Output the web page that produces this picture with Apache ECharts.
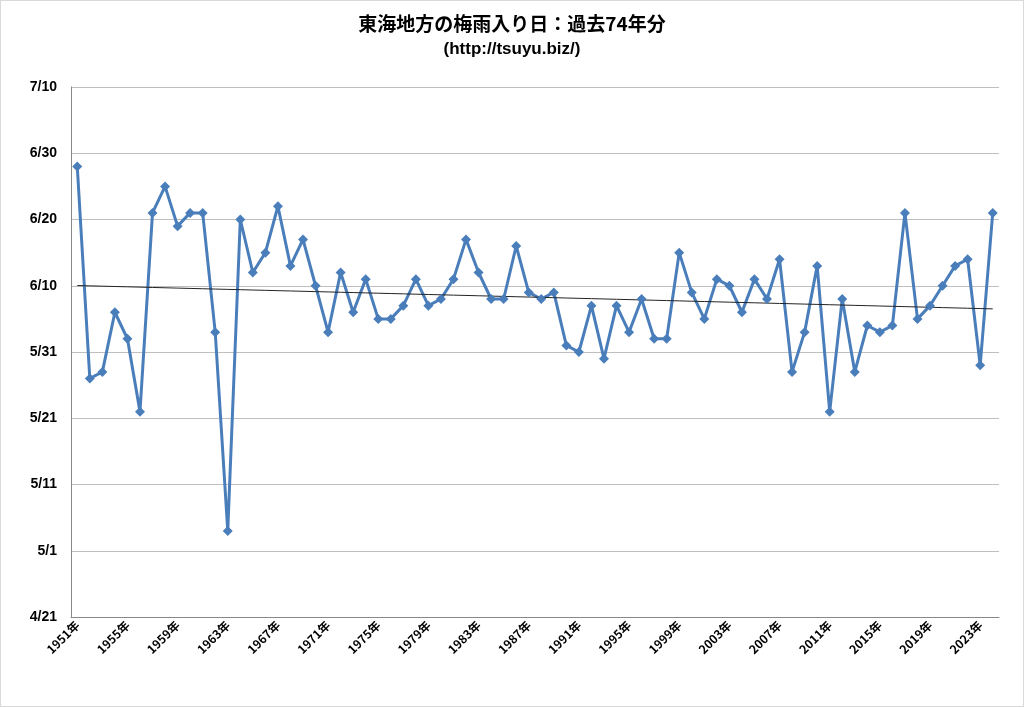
<!DOCTYPE html>
<html>
<head>
<meta charset="utf-8">
<script src="https://cdn.jsdelivr.net/npm/echarts@6/dist/echarts.min.js"></script>
<style>
  html, body { margin: 0; padding: 0; background: #fff; }
  #chart { width: 1022px; height: 705px; border: 1px solid #d9d9d9; }
</style>
</head>
<body>
<div id="chart"></div>
<script>
// 年（1951〜2024）
var years = []
for (var y = 1951; y <= 2024; y++) years.push(y + '年')

// 梅雨入り日（月/日）
var entryDates = [
  '6/28', '5/27', '5/28', '6/6', '6/2', '5/22', '6/21', '6/25', '6/19', '6/21',
  '6/21', '6/3', '5/4', '6/20', '6/12', '6/15', '6/22', '6/13', '6/17', '6/10',
  '6/3', '6/12', '6/6', '6/11', '6/5', '6/5', '6/7', '6/11', '6/7', '6/8',
  '6/11', '6/17', '6/12', '6/8', '6/8', '6/16', '6/9', '6/8', '6/9', '6/1',
  '5/31', '6/7', '5/30', '6/7', '6/3', '6/8', '6/2', '6/2', '6/15', '6/9',
  '6/5', '6/11', '6/10', '6/6', '6/11', '6/8', '6/14', '5/28', '6/3', '6/13',
  '5/22', '6/8', '5/28', '6/4', '6/3', '6/4', '6/21', '6/5', '6/7', '6/10',
  '6/13', '6/14', '5/29', '6/21'
]

// 目盛りは 4/21 を基準にした日数
var baseDate = new Date(2001, 3, 21)
function toDays(s) {
  var p = s.split('/')
  var d = new Date(2001, +p[0] - 1, +p[1])
  return Math.round((d - baseDate) / 86400000)
}
function toLabel(v) {
  var d = new Date(2001, 3, 21 + v)
  return (d.getMonth() + 1) + '/' + d.getDate()
}

var values = entryDates.map(toDays)

// 線形近似（トレンドライン）
var n = values.length, sx = 0, sy = 0, sxy = 0, sxx = 0
values.forEach(function (v, i) { sx += i; sy += v; sxy += i * v; sxx += i * i })
var slope = (n * sxy - sx * sy) / (n * sxx - sx * sx)
var icpt = (sy - slope * sx) / n
var trend = values.map(function (v, i) { return icpt + slope * i })

var myChart = echarts.init(document.getElementById('chart'))
var option = {
  animation: false,
  title: {
    text: '東海地方の梅雨入り日：過去74年分',
    subtext: '(http://tsuyu.biz/)',
    left: 'center',
    top: 8,
    itemGap: 8,
    textStyle: { fontSize: 19, fontWeight: 'bold', color: '#000', fontFamily: 'Noto Sans CJK JP' },
    subtextStyle: { fontSize: 17, fontWeight: 'bold', color: '#000', fontFamily: 'Liberation Sans' }
  },
  grid: { left: 70, right: 24, top: 86, bottom: 89 },
  xAxis: {
    type: 'category',
    data: years,
    boundaryGap: true,
    axisTick: { show: false },
    axisLine: { lineStyle: { color: '#888' } },
    axisLabel: {
      interval: 3,
      rotate: 45,
      color: '#000',
      fontWeight: 'bold',
      fontSize: 12,
      fontFamily: 'Noto Sans CJK JP',
      margin: 6
    }
  },
  yAxis: {
    type: 'value',
    min: 0,
    max: 80,
    interval: 10,
    axisLine: { show: true, lineStyle: { color: '#888' } },
    axisLabel: {
      color: '#000',
      fontWeight: 'bold',
      fontSize: 14,
      fontFamily: 'Liberation Sans',
      margin: 14,
      formatter: toLabel
    },
    splitLine: { lineStyle: { color: '#bfbfbf', width: 1 } }
  },
  series: [
    {
      type: 'line',
      data: values,
      symbol: 'diamond',
      symbolSize: 10,
      showAllSymbol: true,
      itemStyle: { color: '#4a7ebb' },
      lineStyle: { color: '#4a7ebb', width: 3 }
    },
    {
      type: 'line',
      data: trend,
      symbol: 'none',
      silent: true,
      lineStyle: { color: '#222', width: 1 }
    }
  ]
}
myChart.setOption(option)
</script>
</body>
</html>
